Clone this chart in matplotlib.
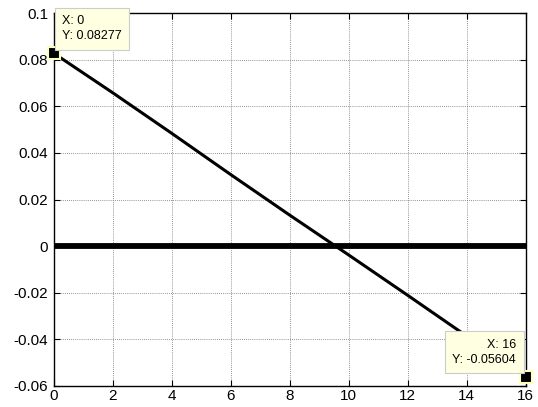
import matplotlib
matplotlib.use("Agg")
import matplotlib.pyplot as plt

plt.rcParams['font.family'] = ['Liberation Sans', 'DejaVu Sans']

# response curve sampled at even x
x_vals = [0, 2, 4, 6, 8, 10, 12, 14, 16]
y_vals = [0.08277, 0.0658, 0.0484, 0.0307, 0.0133, -0.0038, -0.0211, -0.0386, -0.05604]

# reference line
ref_x = [0, 16]
ref_y = [0, 0]

x_ticks = [0, 2, 4, 6, 8, 10, 12, 14, 16]
y_ticks = [-0.06, -0.04, -0.02, 0, 0.02, 0.04, 0.06, 0.08, 0.1]
y_tick_labels = ['-0.06', '-0.04', '-0.02', '0', '0.02', '0.04', '0.06', '0.08', '0.1']

# data tips
tip_x = [0, 16]
tip_y = [0.08277, -0.05604]
tip_text = ['X: 0\nY: 0.08277', 'X: 16\nY: -0.05604']

fig = plt.figure(figsize=(5.38, 4.07), dpi=100)
ax = fig.add_axes([0.0998, 0.0516, 0.8774, 0.9164])

ax.plot(ref_x, ref_y, color='black', linewidth=4.2, solid_capstyle='butt', zorder=3)
ax.plot(x_vals, y_vals, color='black', linewidth=2.2, zorder=4)

ax.set_xlim(0, 16)
ax.set_ylim(-0.06, 0.1)
ax.set_xticks(x_ticks)
ax.set_xticklabels([str(v) for v in x_ticks])
ax.set_yticks(y_ticks)
ax.set_yticklabels(y_tick_labels)

ax.tick_params(direction='in', length=4, width=0.8, top=True, right=True,
               labelsize=11, colors='black')
ax.tick_params(axis='y', pad=4)
ax.tick_params(axis='x', pad=2)
ax.grid(True, linestyle=(0, (1, 1.5)), linewidth=0.6, color='#707070')
for s in ax.spines.values():
    s.set_linewidth(1.0)
    s.set_color('black')

# data tip markers and boxes
for xv, yv in zip(tip_x, tip_y):
    ax.plot([xv], [yv], marker='s', markersize=8, markerfacecolor='black',
            markeredgecolor='#ffffc0', markeredgewidth=1.5, clip_on=False, zorder=10)

box = dict(boxstyle='square,pad=0.6', facecolor='#ffffe1', edgecolor='#cccccc', linewidth=0.8)
ax.annotate(tip_text[0], xy=(tip_x[0], tip_y[0]), xytext=(6, 8), textcoords='offset points',
            ha='left', va='bottom', fontsize=9, linespacing=1.3, bbox=box,
            annotation_clip=False, zorder=11)
ax.annotate(tip_text[1], xy=(tip_x[1], tip_y[1]), xytext=(-7, 8), textcoords='offset points',
            ha='right', va='bottom', multialignment='right', fontsize=9, linespacing=1.3, bbox=box,
            annotation_clip=False, zorder=11)

fig.savefig('out.png', dpi=100)
